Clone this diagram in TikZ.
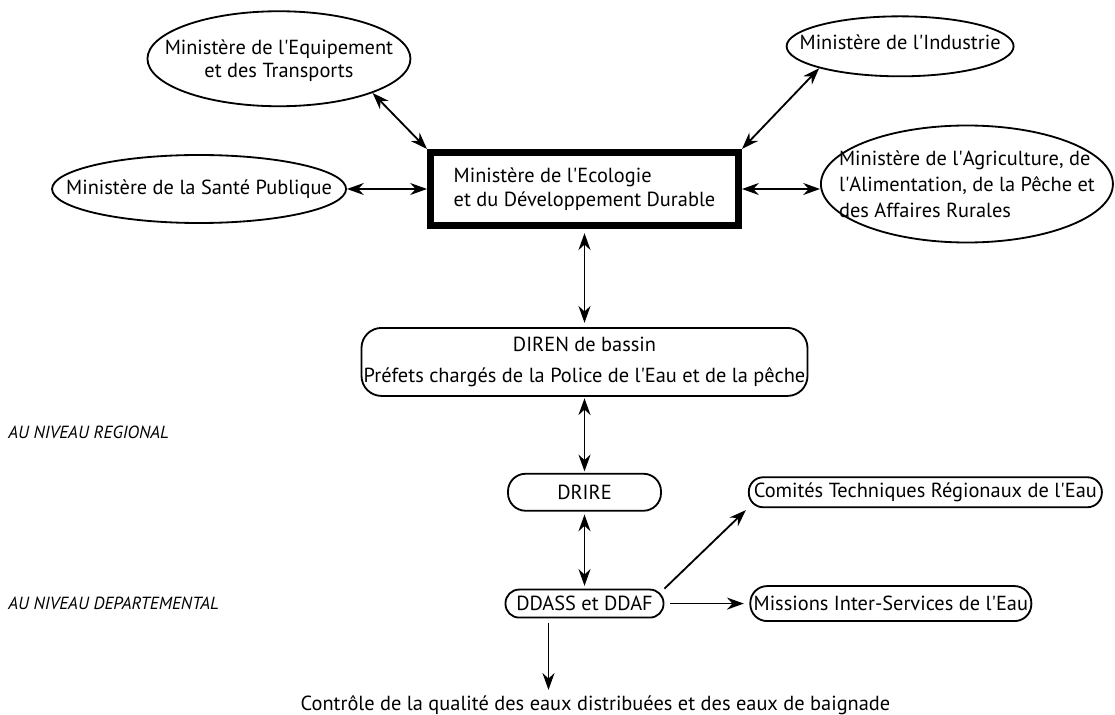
\documentclass[tikz,border=0pt]{standalone}
\usepackage{fontspec}
\setmainfont{PT Sans}
\usetikzlibrary{arrows.meta,positioning,shapes.geometric}
\newcommand{\apo}{\textquotesingle}
\tikzset{
  txt/.style={font=\fontsize{14.5}{17}\selectfont, inner sep=0pt},
  ministry/.style={ellipse, draw, line width=1.3pt, inner sep=0pt},
  centralbox/.style={rectangle, draw, line width=5pt, txt, align=left},
  service/.style={rectangle, draw, line width=1.3pt, txt, align=center},
  level/.style={font=\itshape\fontsize{12.5}{15}\selectfont, anchor=west, inner sep=0pt},
  arrow/.style={-{Stealth[length=4.2mm, width=3mm]}, line width=1.3pt},
  arrowboth/.style={arrow, {Stealth[length=4.2mm, width=3mm]}-{Stealth[length=4.2mm, width=3mm]}},
}

\begin{document}
\begin{tikzpicture}
\useasboundingbox[fill=white] (0,0) rectangle (27.875,-17.875);
% central ministry
\node[centralbox, minimum width=7.7cm, minimum height=1.825cm] (ecolo) at (14.6125,-4.725) {Ministère de l\apo Ecologie\\et du Développement Durable};

% other ministries
\node[ministry, minimum width=7.35cm, minimum height=1.7cm, left=2cm of ecolo] (sante) {};
\node[txt] (santetxt) at (sante) {Ministère de la Santé Publique};
\node[ministry, minimum width=6.575cm, minimum height=2.375cm, above left=1.4cm and 1.36cm of ecolo] (equip) {};
\node[txt, align=center, font=\fontsize{14.5}{16.3}\selectfont] (equiptxt) at ([yshift=-0.04cm]equip) {Ministère de l\apo Equipement\\et des Transports};
\node[ministry, minimum width=5.675cm, minimum height=1.5cm, above right=2.02cm and 1.93cm of ecolo] (industrie) {};
\node[txt] (industrietxt) at ([yshift=0.1cm]industrie) {Ministère de l\apo Industrie};
\node[ministry, minimum width=7.3cm, minimum height=2.925cm, right=1.95cm of ecolo, yshift=0.125cm] (agri) {};
\node[txt, align=left, font=\fontsize{14.5}{18.4}\selectfont] (agritxt) at (agri) {Ministère de l\apo Agriculture, de\\l\apo Alimentation, de la Pêche et\\des Affaires Rurales};

% services
\node[service, minimum width=11.15cm, minimum height=1.7cm, rounded corners=0.5cm, font=\fontsize{14.5}{22.7}\selectfont, below=2.45cm of ecolo] (diren) {DIREN de bassin\\Préfets chargés de la Police de l\apo Eau et de la pêche};
\node[service, minimum width=3.825cm, minimum height=0.925cm, rounded corners=0.44cm, below=1.9cm of diren] (drire) {DRIRE};
\node[service, minimum width=3.95cm, minimum height=0.7cm, rounded corners=0.34cm, below=1.925cm of drire] (ddass) {DDASS et DDAF};
\node[service, minimum width=8.825cm, minimum height=0.75cm, rounded corners=0.36cm, right=2.15cm of drire] (comites) {Comités Techniques Régionaux de l\apo Eau};
\node[service, minimum width=7.025cm, minimum height=0.875cm, rounded corners=0.42cm, right=2.125cm of ddass] (missions) {Missions Inter-Services de l\apo Eau};
\node[txt, below=1.925cm of ddass, xshift=0.275cm] (controle) {Contrôle de la qualité des eaux distribuées et des eaux de baignade};

% levels
\node[level] (regional) at (0.2,-10.8) {AU NIVEAU REGIONAL};
\node[level] (departemental) at (0.2,-15.075) {AU NIVEAU DEPARTEMENTAL};

% links
\draw[arrowboth] (equip.south east) -- (ecolo.north west);
\draw[arrowboth] (industrie.south west) -- (ecolo.north east);
\draw[arrowboth] (sante.east) -- (ecolo.west);
\draw[arrowboth] (ecolo.east) -- (ecolo.east -| agri.west);
\draw[arrowboth, shorten <=3pt, shorten >=3pt] (ecolo) -- (diren);
\draw[arrowboth, shorten <=1pt, shorten >=1pt] (diren) -- (drire);
\draw[arrowboth, shorten <=2pt, shorten >=2pt] (drire) -- (ddass);
\draw[arrow, shorten >=2pt] (ddass.north east) -- (comites.south west);
\draw[arrow, shorten <=4pt, shorten >=4pt] (ddass.east) -- (ddass.east -| missions.west);
\coordinate (ddout) at ([xshift=-0.9cm]ddass.south);
\draw[arrow, shorten <=3pt, shorten >=4pt] (ddout) -- (ddout |- controle.north);
\end{tikzpicture}
\end{document}
